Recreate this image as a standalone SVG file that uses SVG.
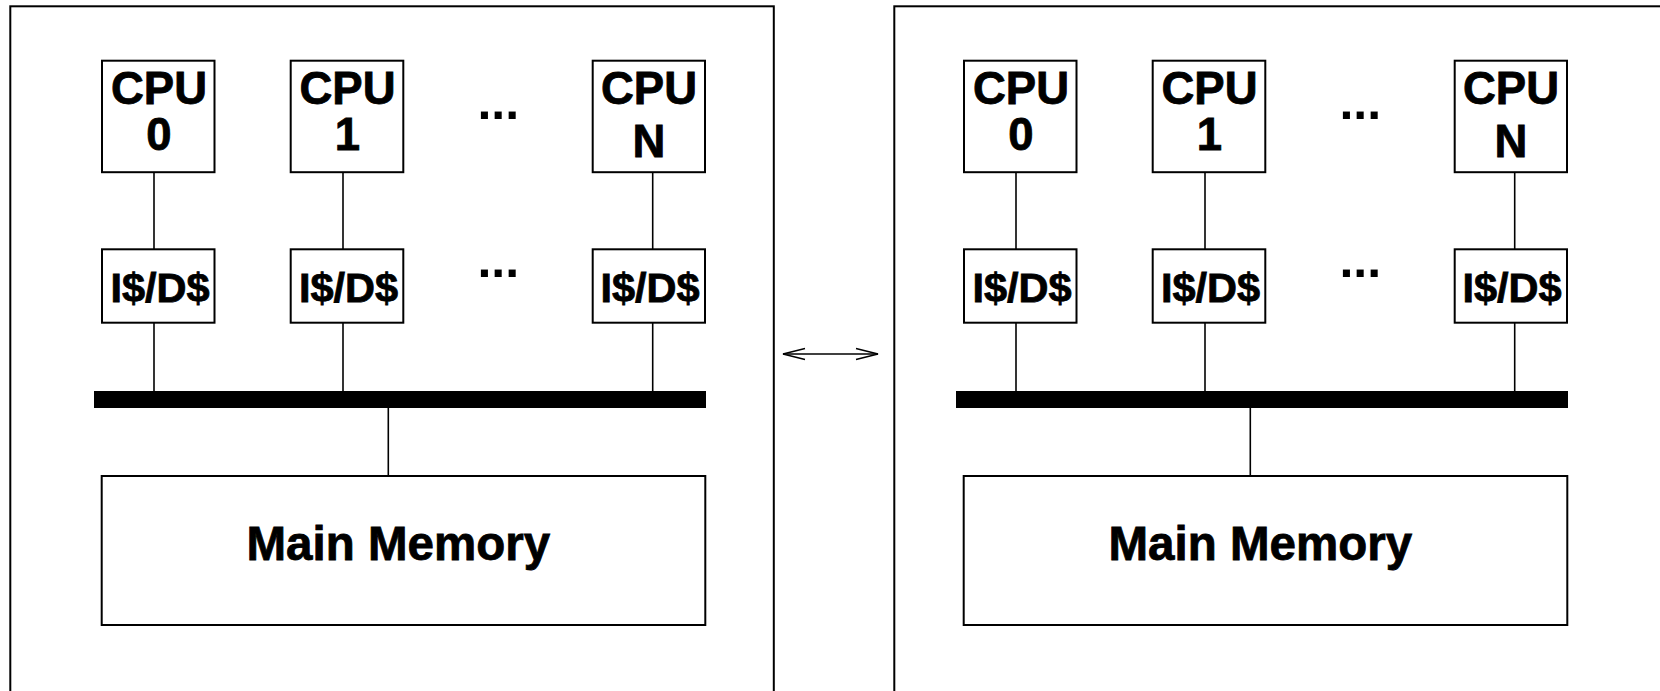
<svg xmlns="http://www.w3.org/2000/svg" width="1660" height="691" viewBox="0 0 1660 691">
<style>
.panel{fill:none;stroke:#000;stroke-width:2}
.box{fill:#fff;stroke:#000;stroke-width:2}
.ln{stroke:#000;stroke-width:1.6;fill:none}
.bus{fill:#000}
.t{font-family:"Liberation Sans",Arial,Helvetica,sans-serif;font-weight:bold;fill:#000;stroke:#000;stroke-width:0.8;text-anchor:middle}
.cpu{font-size:45.5px}
.cache{font-size:41.5px}
.mem{font-size:47.5px}
.dots{font-family:"Liberation Sans",Arial,Helvetica,sans-serif;font-weight:bold;font-size:50px;fill:#000}
</style>
<defs>
<marker id="ah" markerUnits="userSpaceOnUse" markerWidth="26" markerHeight="14" refX="23" refY="7" orient="auto-start-reverse" viewBox="0 0 26 14">
<path d="M1,1.5 L23,7 L1,12.5" fill="none" stroke="#000" stroke-width="1.4"/>
</marker>
</defs>

<g id="panel-left">
<rect class="panel" x="10.3" y="6.3" width="763.5" height="720"/>
</g>
<g id="panel-right">
<rect class="panel" x="894.3" y="6.3" width="800" height="720"/>
</g>

<g id="connectors">
<line class="ln" x1="154" y1="172" x2="154" y2="249"/>
<line class="ln" x1="343" y1="172" x2="343" y2="249"/>
<line class="ln" x1="652.7" y1="172" x2="652.7" y2="249"/>
<line class="ln" x1="154" y1="323" x2="154" y2="392"/>
<line class="ln" x1="343" y1="323" x2="343" y2="392"/>
<line class="ln" x1="652.7" y1="323" x2="652.7" y2="392"/>
<line class="ln" x1="388.3" y1="407" x2="388.3" y2="476"/>
<line class="ln" x1="1016" y1="172" x2="1016" y2="249"/>
<line class="ln" x1="1205" y1="172" x2="1205" y2="249"/>
<line class="ln" x1="1514.7" y1="172" x2="1514.7" y2="249"/>
<line class="ln" x1="1016" y1="323" x2="1016" y2="392"/>
<line class="ln" x1="1205" y1="323" x2="1205" y2="392"/>
<line class="ln" x1="1514.7" y1="323" x2="1514.7" y2="392"/>
<line class="ln" x1="1250.3" y1="407" x2="1250.3" y2="476"/>
<line x1="783" y1="354" x2="878" y2="354" stroke="#000" stroke-width="1.4" marker-start="url(#ah)" marker-end="url(#ah)"/>
</g>

<g id="bus-left"><rect class="bus" x="94" y="391" width="612" height="17"/></g>
<g id="bus-right"><rect class="bus" x="956" y="391" width="612" height="17"/></g>

<g id="cpu0-left"><rect class="box" x="102" y="60.7" width="112.5" height="111.5"/><text class="t cpu" x="159" y="104">CPU<tspan x="159" y="149.5">0</tspan></text></g>
<g id="cpu1-left"><rect class="box" x="290.7" y="60.7" width="112.6" height="111.5"/><text class="t cpu" x="347.5" y="104">CPU<tspan x="347.5" y="149.5">1</tspan></text></g>
<g id="cpun-left"><rect class="box" x="592.7" y="60.7" width="112.3" height="111.5"/><text class="t cpu" x="649" y="104">CPU<tspan x="649" y="156.7">N</tspan></text></g>
<g id="dots-left"><text class="dots" x="477.4" y="119.3">...</text><text class="dots" x="477.4" y="277.3">...</text></g>
<g id="cache0-left"><rect class="box" x="102" y="249.3" width="112.5" height="73.4"/><text class="t cache" x="160" y="302.3">I$/D$</text></g>
<g id="cache1-left"><rect class="box" x="290.7" y="249.3" width="112.6" height="73.4"/><text class="t cache" x="348.5" y="302.3">I$/D$</text></g>
<g id="cachen-left"><rect class="box" x="592.7" y="249.3" width="112.3" height="73.4"/><text class="t cache" x="650" y="302.3">I$/D$</text></g>
<g id="mem-left"><rect class="box" x="101.7" y="476" width="603.6" height="149"/><text class="t mem" x="398.3" y="560">Main Memory</text></g>

<g id="cpu0-right"><rect class="box" x="964" y="60.7" width="112.5" height="111.5"/><text class="t cpu" x="1021" y="104">CPU<tspan x="1021" y="149.5">0</tspan></text></g>
<g id="cpu1-right"><rect class="box" x="1152.7" y="60.7" width="112.6" height="111.5"/><text class="t cpu" x="1209.5" y="104">CPU<tspan x="1209.5" y="149.5">1</tspan></text></g>
<g id="cpun-right"><rect class="box" x="1454.7" y="60.7" width="112.3" height="111.5"/><text class="t cpu" x="1511" y="104">CPU<tspan x="1511" y="156.7">N</tspan></text></g>
<g id="dots-right"><text class="dots" x="1339.4" y="119.3">...</text><text class="dots" x="1339.4" y="277.3">...</text></g>
<g id="cache0-right"><rect class="box" x="964" y="249.3" width="112.5" height="73.4"/><text class="t cache" x="1022" y="302.3">I$/D$</text></g>
<g id="cache1-right"><rect class="box" x="1152.7" y="249.3" width="112.6" height="73.4"/><text class="t cache" x="1210.5" y="302.3">I$/D$</text></g>
<g id="cachen-right"><rect class="box" x="1454.7" y="249.3" width="112.3" height="73.4"/><text class="t cache" x="1512" y="302.3">I$/D$</text></g>
<g id="mem-right"><rect class="box" x="963.7" y="476" width="603.6" height="149"/><text class="t mem" x="1260.3" y="560">Main Memory</text></g>
</svg>
